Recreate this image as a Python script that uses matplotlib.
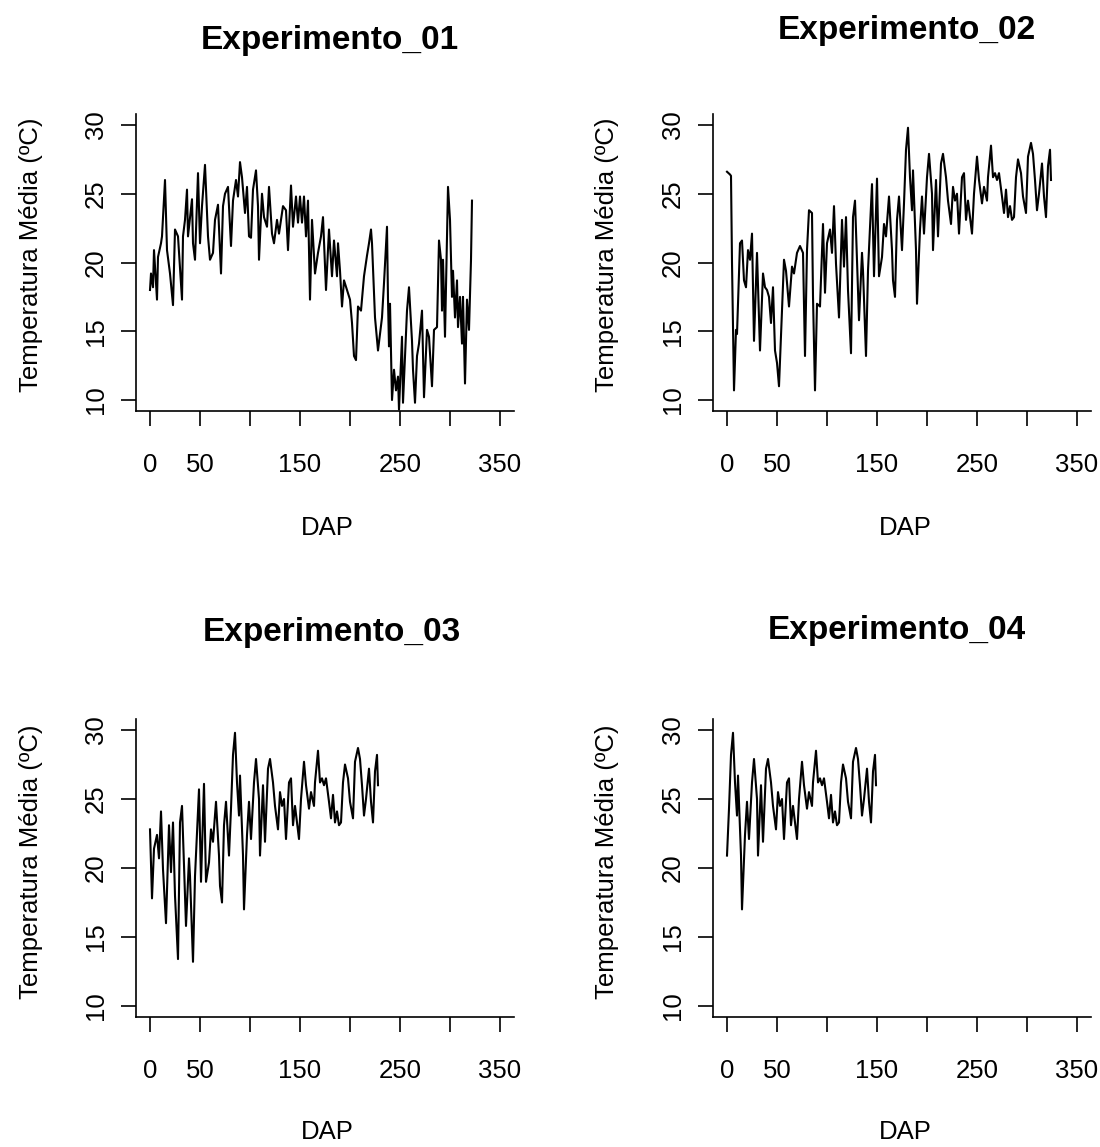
import matplotlib
matplotlib.use("Agg")
import matplotlib.pyplot as plt
import numpy as np

plt.rcParams['font.family'] = ['Liberation Sans', 'DejaVu Sans']

# ---------------- data ----------------
exp01_days = [0, 1, 3, 4, 7, 8, 11, 12, 15, 17, 20, 23, 25, 28, 32, 33, 35, 37, 38, 42,
              43, 45, 48, 50, 52, 55, 58, 60, 63, 65, 68, 71, 73, 75, 78, 81, 83, 86, 88, 90,
              92, 95, 97, 99, 101, 103, 106, 108, 109, 112, 114, 117, 119, 122, 124, 127, 129, 133, 136, 138,
              141, 143, 146, 148, 150, 152, 154, 156, 158, 160, 162, 165, 168, 171, 173, 176, 179, 182, 184, 187,
              188, 190, 192, 194, 197, 200, 202, 204, 206, 208, 211, 214, 217, 219, 221, 222, 225, 228, 232, 234,
              237, 238, 239, 240, 242, 244, 246, 248, 249, 252, 253, 257, 259, 262, 263, 265, 267, 269, 272, 274,
              277, 279, 282, 284, 287, 289, 291, 292, 293, 295, 297, 298, 300, 302, 303, 305, 307, 308, 310, 312,
              313, 315, 317, 319, 321, 322]
exp01_temp = [18.0, 19.2, 18.2, 20.9, 17.3, 20.4, 21.4, 21.9, 26.0, 20.9, 19.2, 16.9, 22.4, 21.9, 17.3, 21.9, 23.1, 25.3, 21.9, 24.6,
              21.4, 20.2, 26.5, 21.4, 24.1, 27.1, 21.9, 20.2, 20.7, 23.1, 24.2, 19.2, 24.1, 25.0, 25.5, 21.2, 24.5, 26.0, 24.8, 27.3,
              26.2, 23.6, 25.5, 21.9, 21.8, 25.3, 26.7, 24.1, 20.2, 25.0, 23.3, 22.6, 25.5, 22.1, 21.4, 23.1, 22.1, 24.1, 23.8, 20.9,
              25.6, 22.6, 24.8, 22.9, 24.8, 22.9, 24.8, 21.9, 24.5, 17.3, 23.1, 19.2, 20.7, 21.9, 23.3, 18.0, 22.4, 19.0, 21.6, 19.0,
              21.4, 19.4, 16.8, 18.7, 18.0, 17.3, 15.6, 13.2, 12.9, 16.8, 16.5, 19.0, 20.5, 21.4, 22.4, 21.4, 16.0, 13.6, 16.0, 18.5,
              22.6, 17.3, 13.9, 17.0, 10.0, 12.2, 10.7, 11.7, 9.3, 14.6, 9.8, 16.5, 18.2, 14.3, 12.2, 9.8, 13.2, 14.1, 16.5, 10.2,
              15.1, 14.6, 11.0, 15.1, 15.3, 21.6, 20.2, 16.5, 20.2, 14.6, 21.9, 25.5, 23.1, 17.5, 19.4, 16.0, 18.7, 15.3, 17.5, 14.1,
              17.5, 11.2, 17.3, 15.1, 20.2, 24.5]

exp02_days = [0, 3, 4, 5, 7, 9, 10, 13, 15, 17, 19, 21, 23, 25, 27, 30, 33, 36, 38, 40,
              42, 44, 46, 48, 50, 52, 55, 57, 59, 60, 62, 65, 67, 70, 73, 76, 78, 80, 82, 85,
              86, 88, 90, 93, 96, 98, 100, 103, 105, 107, 109, 112, 115, 117, 119, 121, 124, 126, 128, 130,
              132, 135, 136, 139, 141, 145, 147, 150, 152, 155, 157, 159, 162, 165, 166, 168, 170, 172, 175, 177,
              179, 181, 183, 185, 186, 189, 190, 193, 195, 197, 200, 202, 205, 206, 209, 211, 214, 216, 219, 221,
              224, 226, 228, 230, 232, 235, 237, 239, 241, 245, 247, 250, 252, 255, 257, 260, 261, 264, 266, 268,
              270, 272, 275, 277, 279, 281, 283, 285, 287, 289, 291, 294, 296, 299, 301, 304, 306, 308, 310, 312,
              315, 317, 319, 321, 323, 324]
exp02_temp = [26.6, 26.4, 26.3, 20.0, 10.7, 15.1, 14.8, 21.4, 21.6, 18.7, 18.2, 20.9, 20.2, 22.1, 14.3, 20.7, 13.6, 19.2, 18.2, 18.0,
              17.5, 15.6, 18.2, 13.6, 12.7, 11.0, 16.5, 20.2, 19.4, 18.5, 16.8, 19.7, 19.2, 20.7, 21.2, 20.7, 13.2, 20.9, 23.8, 23.6,
              17.5, 10.7, 17.0, 16.8, 22.8, 17.8, 21.4, 22.4, 20.7, 24.1, 19.9, 16.0, 23.1, 19.7, 23.3, 18.0, 13.4, 23.3, 24.5, 20.2,
              15.8, 20.7, 19.4, 13.2, 19.4, 25.7, 19.0, 26.1, 19.0, 20.4, 22.8, 21.9, 24.8, 20.9, 18.7, 17.5, 23.1, 24.8, 20.9, 24.3,
              28.2, 29.8, 26.2, 23.8, 26.7, 20.9, 17.0, 22.4, 24.8, 22.1, 26.2, 27.9, 25.0, 20.9, 26.0, 21.9, 27.2, 27.9, 26.2, 24.5,
              22.8, 25.5, 24.5, 25.0, 22.1, 26.2, 26.5, 23.1, 24.5, 22.1, 25.0, 27.7, 26.0, 24.3, 25.5, 24.5, 26.2, 28.5, 26.2, 26.5,
              26.0, 26.5, 24.8, 23.6, 25.3, 23.3, 24.1, 23.1, 23.3, 26.2, 27.5, 26.5, 24.8, 23.6, 27.7, 28.7, 27.9, 26.0, 23.8, 25.0,
              27.2, 24.8, 23.3, 27.0, 28.2, 26.0]

# Experimento_03 and Experimento_04 are the tail of the Experimento_02 record
exp03_start_day = 96
exp04_start_day = 175

titles = ["Experimento_01", "Experimento_02", "Experimento_03", "Experimento_04"]
x_ticks = [0, 50, 100, 150, 200, 250, 300, 350]
x_tick_labels = ["0", "50", "", "150", "", "250", "", "350"]
y_ticks = [10, 15, 20, 25, 30]
y_tick_labels = ["10", "15", "20", "25", "30"]
x_label = "DAP"
y_label = "Temperatura Média (ºC)"

# ---------------- build series ----------------
d2 = np.array(exp02_days)
t2 = np.array(exp02_temp)
m3 = d2 >= exp03_start_day
m4 = d2 >= exp04_start_day
series = [
    (np.array(exp01_days), np.array(exp01_temp)),
    (d2, t2),
    (d2[m3] - exp03_start_day, t2[m3]),
    (d2[m4] - exp04_start_day, t2[m4]),
]

# ---------------- layout ----------------
W, H = 1100, 1147
fig = plt.figure(figsize=(W / 100, H / 100), dpi=100)

def rect(l, t, r, b):
    return [l / W, 1 - b / H, (r - l) / W, (b - t) / H]

panels = [rect(136, 114, 514, 411), rect(713, 114, 1091, 411),
          rect(136, 719, 514, 1017), rect(713, 719, 1091, 1017)]
title_pos = [(330, 40), (907, 30), (332, 632), (897, 630)]
xlabel_pos = [(327, 528), (905, 528), (327, 1132), (905, 1132)]
ylabel_pos = [(31, 255), (607, 255), (31, 862), (607, 862)]

FS = 18.5
for i, (pos, (x, y)) in enumerate(zip(panels, series)):
    ax = fig.add_axes(pos)
    ax.plot(x, y, color="black", lw=1.5)
    ax.set_xlim(-14, 364)
    ax.set_ylim(9.2, 30.8)
    for s in ["top", "right"]:
        ax.spines[s].set_visible(False)
    for s in ["left", "bottom"]:
        ax.spines[s].set_linewidth(1.2)
    ax.set_xticks(x_ticks)
    ax.set_xticklabels(x_tick_labels, fontsize=FS)
    ax.set_yticks(y_ticks)
    ax.set_yticklabels(y_tick_labels, fontsize=FS, rotation=90, va="center")
    ax.tick_params(axis="x", direction="out", length=11, width=1.2, pad=19)
    ax.tick_params(axis="y", direction="out", length=11, width=1.2, pad=9)
    tx, ty = title_pos[i]
    fig.text(tx / W, 1 - ty / H, titles[i], fontsize=24, fontweight="bold",
             ha="center", va="center")
    lx, ly = xlabel_pos[i]
    fig.text(lx / W, 1 - ly / H, x_label, fontsize=FS, ha="center", va="center")
    yx, yy = ylabel_pos[i]
    fig.text(yx / W, 1 - yy / H, y_label, fontsize=FS, ha="center", va="center",
             rotation=90)

fig.savefig("out.png", dpi=100, facecolor="white")
